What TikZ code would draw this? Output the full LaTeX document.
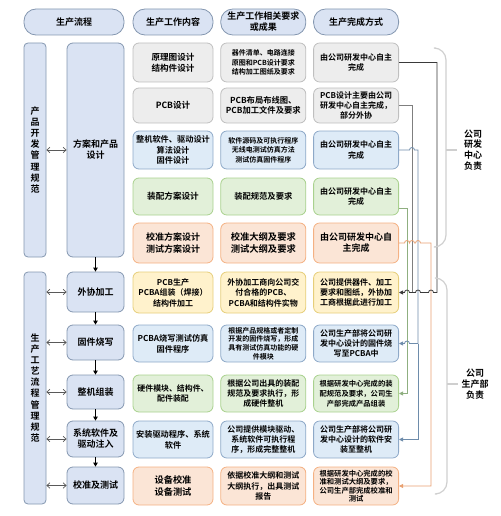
\documentclass[tikz,border=0pt]{standalone}
\usepackage{fontspec}
\setmainfont{Noto Sans CJK SC}[BoldFont={Noto Sans CJK SC Bold}]
\usetikzlibrary{positioning,arrows.meta,calc}

\definecolor{lavfill}{HTML}{DAE3F3}
\definecolor{lavline}{HTML}{8497B0}
\definecolor{gryfill}{HTML}{EDEDED}
\definecolor{gryline}{HTML}{BFBFBF}
\definecolor{blufill}{HTML}{DEEBF7}
\definecolor{bluline}{HTML}{8EA9C8}
\definecolor{grnfill}{HTML}{E2F0D9}
\definecolor{grnline}{HTML}{A9D18E}
\definecolor{orgfill}{HTML}{FBE5D6}
\definecolor{orgline}{HTML}{F4B183}
\definecolor{ylwfill}{HTML}{FFF2CC}
\definecolor{ylwline}{HTML}{E6CE7A}
\definecolor{kcol}{HTML}{3A3A3A}
\definecolor{scol}{HTML}{7F7F7F}
\definecolor{bcol}{HTML}{6E8CAB}
\definecolor{gcol}{HTML}{8FAF80}
\definecolor{ocol}{HTML}{E8A070}
\definecolor{brcol}{HTML}{CFCFCF}

\newcommand{\boxfont}[2]{\fontsize{#1}{#2}\selectfont\bfseries}

\begin{document}
\begin{tikzpicture}[x=1pt,y=-1pt,
  box/.style={draw, rounded corners=6pt, align=center, inner sep=0pt, line width=0.8pt, font={\boxfont{8}{10.3}}},
  hdr/.style={box, fill=lavfill, draw=lavline, rounded corners=12pt, minimum height=26pt, font={\boxfont{9}{11}}},
  flow/.style={box, fill=lavfill, draw=lavline, minimum width=57pt, font={\boxfont{9}{11}}},
  side/.style={box, fill=lavfill, draw=lavline, minimum width=22pt, rounded corners=4pt, font={\boxfont{9}{11.1}}},
  greybox/.style={box, fill=gryfill, draw=gryline},
  bluebox/.style={box, fill=blufill, draw=bluline},
  greenbox/.style={box, fill=grnfill, draw=grnline},
  orangebox/.style={box, fill=orgfill, draw=orgline},
  yellowbox/.style={box, fill=ylwfill, draw=ylwline},
  col3/.style={minimum width=80pt},
  col4/.style={minimum width=85pt},
  col5/.style={minimum width=85pt},
  hgt/.style={minimum height=#1pt},
  dbl/.style={{Straight Barb[length=3pt,width=5.5pt]}-{Straight Barb[length=3pt,width=5.5pt]}, draw=black!65, line width=0.7pt},
  down/.style={-{Triangle[length=4pt,width=4.5pt]}, line width=0.8pt},
  link/.style={line width=0.8pt},
  tip/.style={-{Triangle[length=4pt,width=4pt]}},
  brace/.style={draw=brcol, line width=1.2pt, rounded corners=12pt},
  note/.style={align=center, inner sep=0pt, font={\boxfont{9}{10.7}}}
]
\useasboundingbox (0,0) rectangle (500,516);

% headers
\node[hdr, minimum width=100pt] (h1) at (74,22) {生产流程};
\node[hdr, minimum width=80pt] (h2) at (173,22) {生产工作内容};
\node[hdr, minimum width=85pt, right=7pt of h2] (h3) {生产工作相关要求\\或成果};
\node[hdr, minimum width=85pt, right=7pt of h3] (h4) {生产完成方式};

% work content / requirements / completion, row by row
\node[greybox, col3, hgt=39, font={\boxfont{8.6}{11}}] (c1) at (173,62.5) {原理图设计\\结构件设计};
\node[greybox, col4, hgt=39, font={\boxfont{7}{9.5}}, right=7pt of c1] (r1) {器件清单、电路连接\\原图和PCB设计要求\\结构加工图纸及要求};
\node[greybox, col5, hgt=39, right=7pt of r1] (w1) {由公司研发中心自主\\完成};

\node[greybox, col3, hgt=35, font={\boxfont{8.6}{11}}] (c2) at (173,105.5) {PCB设计};
\node[greybox, col4, hgt=35, font={\boxfont{8.3}{10.5}}, right=7pt of c2] (r2) {PCB布局布线图、\\PCB加工文件及要求};
\node[greybox, col5, hgt=35, right=7pt of r2] (w2) {PCB设计主要由公司\\研发中心自主完成，\\部分外协};

\node[bluebox, col3, hgt=38, font={\boxfont{8.2}{10.8}}] (c3) at (173,150) {整机软件、驱动设计\\算法设计\\固件设计};
\node[bluebox, col4, hgt=38, font={\boxfont{7}{9.5}}, right=7pt of c3] (r3) {软件源码及可执行程序\\无线电测试仿真方法\\测试仿真固件程序};
\node[bluebox, col5, hgt=38, right=7pt of r3] (w3) {由公司研发中心自主\\完成};

\node[greenbox, col3, hgt=37, font={\boxfont{8.6}{11}}] (c4) at (173,196.5) {装配方案设计};
\node[greenbox, col4, hgt=37, font={\boxfont{8.3}{10.5}}, right=7pt of c4] (r4) {装配规范及要求};
\node[greenbox, col5, hgt=37, right=7pt of r4] (w4) {由公司研发中心自主\\完成};

\node[orangebox, col3, hgt=40, font={\boxfont{9}{11.2}}] (c5) at (173,243) {校准方案设计\\测试方案设计};
\node[orangebox, col4, hgt=40, font={\boxfont{9.3}{11.2}}, right=7pt of c5] (r5) {校准大纲及要求\\测试大纲及要求};
\node[orangebox, col5, hgt=40, font={\boxfont{9}{11.2}}, right=7pt of r5] (w5) {由公司研发中心自\\主完成};

\node[yellowbox, col3, hgt=41, font={\boxfont{8}{10.5}}] (c6) at (173,292.5) {PCB生产\\PCBA组装（焊接）\\结构件加工};
\node[yellowbox, col4, hgt=41, font={\boxfont{8}{10.5}}, right=7pt of c6] (r6) {外协加工商向公司交\\付合格的PCB、\\PCBA和结构件实物};
\node[yellowbox, col5, hgt=41, right=7pt of r6] (w6) {公司提供器件、加工\\要求和图纸，外协加\\工商根据此进行加工};

\node[bluebox, col3, hgt=37, font={\boxfont{8.2}{10.8}}] (c7) at (173,343.5) {PCBA烧写测试仿真\\固件程序};
\node[bluebox, col4, hgt=37, font={\boxfont{7}{8.7}}, right=7pt of c7] (r7) {根据产品规格或者定制\\开发的固件烧写，形成\\具有测试仿真功能的硬\\件模块};
\node[bluebox, col5, hgt=37, right=7pt of r7] (w7) {公司生产部将公司研\\发中心设计的固件烧\\写至PCBA中};

\node[greenbox, col3, hgt=37, font={\boxfont{7.9}{10.5}}] (c8) at (173,393.5) {硬件模块、结构件、\\配件装配};
\node[greenbox, col4, hgt=37, right=7pt of c8] (r8) {根据公司出具的装配\\规范及要求执行，形\\成硬件整机};
\node[greenbox, col5, hgt=37, font={\boxfont{7.3}{9.8}}, right=7pt of r8] (w8) {根据研发中心完成的装\\配规范及要求，公司生\\产部完成产品组装};

\node[bluebox, col3, hgt=37, font={\boxfont{8.2}{10.8}}] (c9) at (173,439.5) {安装驱动程序、系统\\软件};
\node[bluebox, col4, hgt=37, right=7pt of c9] (r9) {公司提供模块驱动、\\系统软件可执行程\\序，形成完整整机};
\node[bluebox, col5, hgt=37, right=7pt of r9] (w9) {公司生产部将公司研\\发中心设计的软件安\\装至整机};

\node[orangebox, col3, hgt=38, font={\boxfont{9.2}{11.5}}] (c10) at (173,486) {设备校准\\设备测试};
\node[orangebox, col4, hgt=38, right=7pt of c10] (r10) {依据校准大纲和测试\\大纲执行，出具测试\\报告};
\node[orangebox, col5, hgt=38, font={\boxfont{7.3}{8.5}}, right=7pt of r10] (w10) {根据研发中心完成的校\\准和测试大纲及要求，\\公司生产部完成校准和\\测试};

% production flow
\node[flow, minimum height=214pt] (s1) at (95.5,150) {方案和产品\\设计};
\node[flow, minimum height=40pt] (s2) at (95.5,292) {外协加工};
\node[flow, minimum height=35pt] (s3) at (95.5,342.5) {固件烧写};
\node[flow, minimum height=34pt] (s4) at (95.5,392) {整机组装};
\node[flow, minimum height=36pt] (s5) at (95.5,439) {系统软件及\\驱动注入};
\node[flow, minimum height=37pt] (s6) at (95.5,485.5) {校准及测试};

\node[side, minimum height=214pt] (p1) at (35,150) {产\\品\\开\\发\\管\\理\\规\\范};
\node[side, minimum height=232pt] (p2) at (35,388) {生\\产\\工\\艺\\流\\程\\管\\理\\规\\范};

\foreach \s/\p in {s1/p1,s2/p2,s3/p2,s4/p2,s5/p2,s6/p2}
  \draw[dbl] (\p.east |- \s.west) -- (\s.west);
\foreach \a/\b in {s1/s2,s2/s3,s3/s4,s4/s5,s5/s6}
  \draw[down] (\a.south) -- (\b.north);

% buses on the right
\coordinate (bg) at (407,0);
\coordinate (bs) at (412,0);
\coordinate (bb) at (418,0);
\coordinate (bo) at (431,0);
\coordinate (bk) at (437,0);

\draw[link, draw=scol] (w2.east) -- (w2.east -| bs) -- (w6.east -| bs);
\draw[link, draw=gcol, tip] ([yshift=-12pt]w4.east) -| (w8.east -| bg) -- (w8.east);
\draw[link, draw=bcol] (w3.east)
  -- ($(w3.east -| bs)+(-2.5,0)$) arc[start angle=180,end angle=0,radius=2.5pt]
  -- (w3.east -| bb) -- (w7.east -| bb);
\draw[link, draw=bcol, tip] (w7.east -| bb) -- (w9.east -| bb) -- (w9.east);
\draw[link, draw=bcol, tip] (w7.east -| bb)
  -- ($(w7.east -| bg)+(2.5,0)$) arc[start angle=0,end angle=180,radius=2.5pt]
  -- (w7.east);
\draw[link, draw=ocol, tip] (w5.east)
  -- ($(w5.east -| bg)+(-2.5,0)$) arc[start angle=180,end angle=0,radius=2.5pt]
  -- ($(w5.east -| bs)+(-2.5,0)$) arc[start angle=180,end angle=0,radius=2.5pt]
  -- ($(w5.east -| bb)+(-2.5,0)$) arc[start angle=180,end angle=0,radius=2.5pt]
  -- (w5.east -| bo) -- (w10.east -| bo) -- (w10.east);
\draw[link, draw=kcol, tip] (w1.east) -- (w1.east -| bk) -- (w6.east -| bk)
  -- ($(w6.east -| bo)+(2.5,0)$) arc[start angle=0,end angle=180,radius=2.5pt]
  -- ($(w6.east -| bb)+(2.5,0)$) arc[start angle=0,end angle=180,radius=2.5pt]
  -- ($(w6.east -| bg)+(2.5,0)$) arc[start angle=0,end angle=180,radius=2.5pt]
  -- (w6.east);

% who is in charge
\draw[brace] (436,48) -- (446,48) -- (446,247) -- (436,247);
\draw[draw=brcol, line width=1.2pt] (446,150) -- (457,150);
\node[note] (n1) at (473,150) {公司\\研发\\中心\\负责};
\draw[brace] (437,278) -- (447,278) -- (447,494) -- (437,494);
\draw[draw=brcol, line width=1.2pt] (447,384) -- (458,384);
\node[note] (n2) at (475,384) {公司\\生产部\\负责};
\end{tikzpicture}
\end{document}
